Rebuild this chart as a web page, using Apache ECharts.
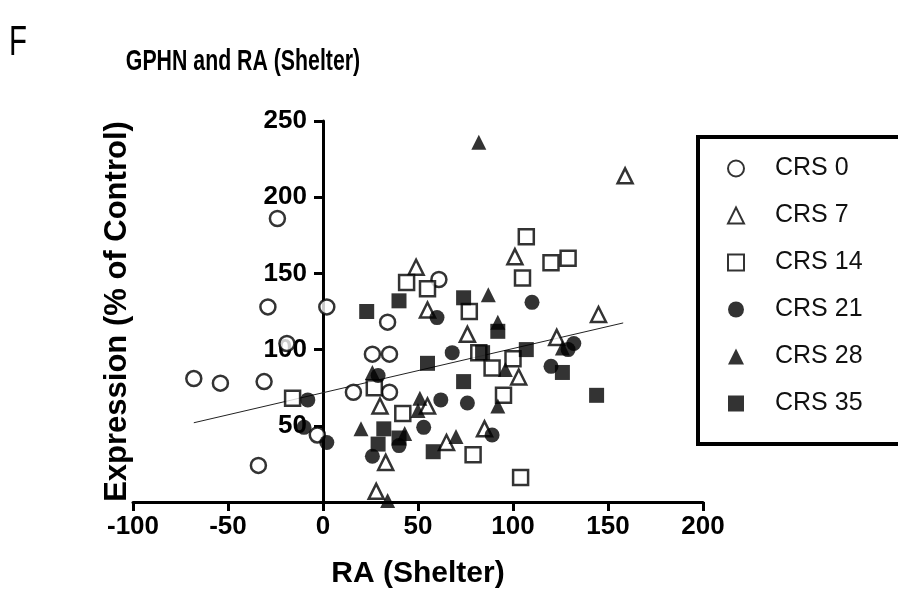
<!DOCTYPE html>
<html>
<head>
<meta charset="utf-8">
<style>
  html, body { margin: 0; padding: 0; background: #fff; }
  #chart { width: 898px; height: 604px; }
</style>
<script src="https://cdn.jsdelivr.net/npm/echarts@6/dist/echarts.min.js"></script>
</head>
<body>
<div id="chart"></div>
<script>
// RA (Shelter) vs GPHN expression, one group per CRS day
const crs0  = [[-24,186],[-29,128],[2,128],[-19,104],[-68,81],[-54,78],[-31,79],[-3,44],[-34,24],[16,72],[26,97],[35,97],[34,118],[35,72],[61,146]];
const crs7  = [[159,214],[49,154],[101,161],[55,126],[76,110],[103,82],[30,63],[55,63],[65,39],[85,48],[33,26],[28,7],[145,123],[123,108]];
const crs14 = [[44,144],[55,140],[107,174],[105,147],[120,157],[129,160],[77,125],[82,98],[89,88],[100,94],[95,70],[42,58],[27,75],[79,31],[104,16],[-16,68]];
const crs21 = [[-8,67],[-10,49],[2,39],[60,121],[68,98],[62,67],[76,65],[53,49],[89,44],[26,30],[29,83],[110,131],[132,104],[129,100],[120,89],[40,37]];
const crs28 = [[82,236],[87,136],[92,118],[20,48],[51,68],[43,45],[70,43],[92,63],[34,1],[26,85],[126,101],[96,87],[50,60]];
const crs35 = [[40,132],[23,125],[74,134],[55,91],[74,79],[84,98],[107,100],[92,112],[58,33],[32,48],[29,38],[40,42],[126,85],[144,70]];

// linear fit endpoints
const fitLine = [[-68,52],[158,117.5]];

const groupNames = ['CRS 0','CRS 7','CRS 14','CRS 21','CRS 28','CRS 35'];
const xTicks = { min: -100, max: 200, step: 50 };
const yTicks = { min: 0, max: 250, step: 50 };

const SANS = "'Liberation Sans', Arial, sans-serif";

const openStyle = { color: '#fff', borderColor: '#000', borderWidth: 2.5 };
const fillStyle = { color: '#000', borderColor: '#000', borderWidth: 0 };

const groups = [
  { data: crs0,  symbol: 'circle',   size: 15, style: openStyle },
  { data: crs7,  symbol: 'triangle', size: 15, style: openStyle },
  { data: crs14, symbol: 'rect',     size: 15, style: openStyle },
  { data: crs21, symbol: 'circle',   size: 15, style: fillStyle },
  { data: crs28, symbol: 'triangle', size: 15, style: fillStyle },
  { data: crs35, symbol: 'rect',     size: 15, style: fillStyle }
];

const chart = echarts.init(document.getElementById('chart'), null, { renderer: 'canvas' });

const series = groups.map((g, i) => ({
  name: groupNames[i],
  type: 'scatter',
  data: g.data,
  symbol: g.symbol,
  symbolSize: g.size,
  itemStyle: g.style,
  z: 3
}));

series.push({
  name: 'fit',
  type: 'line',
  data: fitLine,
  symbol: 'none',
  lineStyle: { color: '#222', width: 1 },
  z: 2,
  silent: true
});

chart.setOption({
  animation: false,
  backgroundColor: '#fff',
  graphic: [{
    type: 'text',
    left: 9,
    top: 22,
    scaleX: 0.7,
    style: { text: 'F', fontFamily: SANS, fontSize: 42, fill: '#000' }
  }, {
    // condensed bold heading
    type: 'text',
    x: 243,
    y: 62,
    scaleX: 0.71,
    style: {
      text: 'GPHN and RA (Shelter)',
      fontFamily: SANS, fontWeight: 'bold', fontSize: 30, fill: '#000',
      align: 'center', verticalAlign: 'middle'
    }
  }],
  legend: {
    data: groupNames,
    orient: 'vertical',
    left: 698,
    top: 137,
    padding: [19, 120, 28, 29],
    itemWidth: 16,
    itemHeight: 16,
    itemGap: 22,
    borderColor: '#000',
    borderWidth: 4,
    textStyle: { fontFamily: SANS, fontSize: 25, color: '#111', padding: [0, 0, 0, 26] },
    selectedMode: false
  },
  grid: { left: 133, right: 195, top: 121, bottom: 102, outerBoundsMode: 'none', containLabel: false },
  xAxis: {
    type: 'value',
    min: xTicks.min,
    max: xTicks.max,
    interval: xTicks.step,
    name: 'RA (Shelter)',
    nameLocation: 'middle',
    nameGap: 57,
    nameTextStyle: { fontFamily: SANS, fontWeight: 'bold', fontSize: 30, color: '#000' },
    axisLine: { onZero: false, lineStyle: { color: '#000', width: 3 } },
    axisTick: { inside: false, length: 9, lineStyle: { color: '#000', width: 3 } },
    axisLabel: { fontFamily: SANS, fontWeight: 'bold', fontSize: 26, color: '#000', margin: 12 },
    splitLine: { show: false }
  },
  yAxis: {
    type: 'value',
    min: yTicks.min,
    max: yTicks.max,
    interval: yTicks.step,
    // the vertical axis sits at RA = 0
    offset: -190,
    name: 'Expression (% of Control)',
    nameLocation: 'middle',
    nameGap: 190,
    nameTextStyle: { fontFamily: SANS, fontWeight: 'bold', fontSize: 31, color: '#000' },
    axisLine: { onZero: false, lineStyle: { color: '#000', width: 3 } },
    axisTick: { inside: false, length: 9, lineStyle: { color: '#000', width: 3 } },
    axisLabel: { fontFamily: SANS, fontWeight: 'bold', fontSize: 26, color: '#000', margin: 16, showMinLabel: false },
    splitLine: { show: false }
  },
  series: series
});
</script>
</body>
</html>
